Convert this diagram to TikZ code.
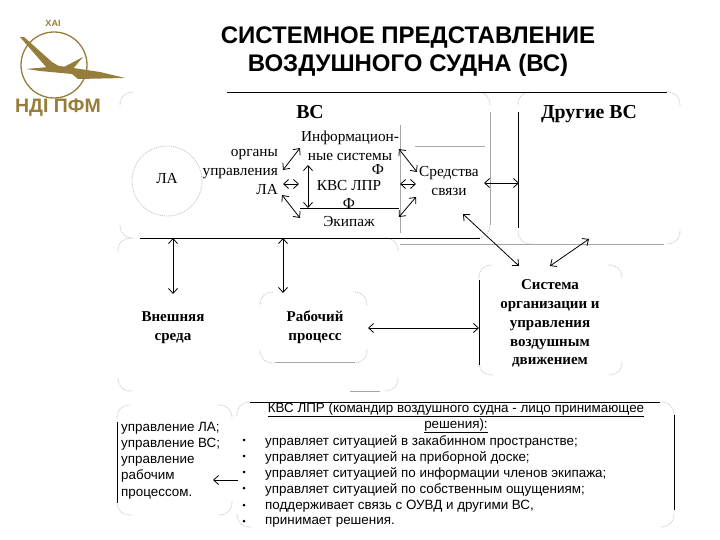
\documentclass[tikz,border=0pt]{standalone}
\usepackage{fontspec}
\setmainfont{Liberation Serif}
\newfontfamily\arialfont{Liberation Sans}
\usepackage{xcolor}
\usetikzlibrary{arrows.meta}
\definecolor{logogold}{RGB}{150,125,60}
\newcommand{\cornerbox}[4]{
    \draw[corner] (#1,{#2+14})|-({#1+14},#2);
    \draw[corner] ({#3-14},#2)-|(#3,{#2+14});
    \draw[corner] (#3,{#4-14})|-({#3-14},#4);
    \draw[corner] ({#1+14},#4)-|(#1,{#4-14});
}
\tikzset{
    >={Straight Barb[length=5pt,width=9pt]},
    corner/.style={gray!45,densely dotted,line width=0.9pt,rounded corners=12pt},
    arr/.style={<->,line width=0.8pt},
    arrone/.style={->,line width=0.8pt},
    edge/.style={black,line width=0.8pt},
    thin edge/.style={gray!70,line width=0.8pt},
    serif/.style={inner sep=0pt,align=center,font=\fontsize{15.3}{19}\selectfont},
    serifb/.style={inner sep=0pt,align=center,font=\fontsize{15}{18.9}\selectfont\bfseries},
    head/.style={inner sep=0pt,font=\fontsize{19.8}{20}\selectfont\bfseries},
    sans/.style={inner sep=0pt,anchor=west,font=\arialfont\fontsize{13.4}{16.2}\selectfont},
}
\begin{document}
\begin{tikzpicture}[x=1pt,y=-1pt]
    \useasboundingbox (0,0) rectangle (720,540);

    % logo
    \draw[logogold,line width=1.3pt] (54,65) circle (33);
    \fill[logogold] (20,37)--(24,37)--(52,62)--(62,68)--(47,68)--cycle;
    \fill[logogold] (62,68)--(83,57)--(72,70)--cycle;
    \fill[logogold] (26,69)--(60,66)--(100,72)--(125,78)--(78,79)--(72,74)--(40,71)--cycle;
    \node[inner sep=0pt,logogold,font=\arialfont\fontsize{9}{9}\selectfont\bfseries] (xai) at (53,23) {ХАІ};
    \node[inner sep=0pt,logogold,font=\arialfont\fontsize{19.5}{19}\selectfont\bfseries] (ndi) at (58,108) {НДІ ПФМ};

    % title
    \node[inner sep=0pt,align=center,font=\arialfont\fontsize{24}{28}\selectfont\bfseries] (title) at (408,51.500) {СИСТЕМНОЕ ПРЕДСТАВЛЕНИЕ\\ВОЗДУШНОГО СУДНА (ВС)};

    % rounded frames
    \cornerbox{120}{92}{490}{238}
    \cornerbox{518}{92}{680}{244}
    \cornerbox{118}{238}{398}{391}
    \cornerbox{479}{265}{622}{375}
    \cornerbox{260}{292}{367}{363}
    \cornerbox{117}{405}{232}{515}
    \cornerbox{237}{402}{674}{527}
    \draw[corner] (167,181) circle (35);

    % frame lines
    \draw[edge] (227,92)--(667,92);
    \draw[thin edge] (490,112)--(490,225);
    \draw[edge] (518,112)--(518,228);
    \draw[edge] (140,238)--(480,238);
    \draw[thin edge] (400,244)--(664,244);
    \draw[edge] (479,280)--(479,365);
    \draw[thin edge] (275,362)--(355,362);
    \draw[thin edge] (350,391)--(380,391);
    \draw[edge] (117,422)--(117,503);
    \draw[edge] (250,402)--(660,402);
    \draw[edge] (674,415)--(674,510);
    \draw[thin edge] (415,146)--(485,146);
    \draw[thin edge] (400,125)--(400,233);
    \draw[edge] (300,208)--(399,208);

    % upper block
    \node[head] (vs) at (310,112) {ВС};
    \node[head] (other) at (589,114) {Другие ВС};
    \node[serif] (la) at (167,179) {ЛА};
    \node[serif,align=right,anchor=east] (organs) at (278,171.500) {органы\\управления\\ЛА};
    \node[serif] (info) at (350,145.500) {Информацион-\\ные системы};
    \node[serif] (kvs) at (349,186) {КВС ЛПР};
    \node[serif] (phi1) at (378,169) {Ф};
    \node[serif] (phi2) at (349,203) {Ф};
    \node[serif] (crew) at (349,222) {Экипаж};
    \node[serif] (comm) at (449,181) {Средства\\связи};

    % lower block
    \node[serifb] (ext) at (173,328) {Внешняя\\среда};
    \node[serifb] (work) at (315,327) {Рабочий\\процесс};
    \node[serifb] (atc) at (550,323.500) {Система\\организации и\\управления\\воздушным\\движением};

    % arrow ends
    \coordinate (a1) at (283,170);
    \coordinate (a2) at (300,148);
    \coordinate (b1) at (283,184);
    \coordinate (b2) at (299,184);
    \coordinate (c1) at (282,195);
    \coordinate (c2) at (300,218);
    \coordinate (d1) at (308,165);
    \coordinate (d2) at (308,208);
    \coordinate (e1) at (399,149);
    \coordinate (e2) at (417,172);
    \coordinate (f1) at (400,184);
    \coordinate (f2) at (416,184);
    \coordinate (g1) at (399,217);
    \coordinate (g2) at (416,197);
    \coordinate (h1) at (484,183);
    \coordinate (h2) at (519,183);
    \coordinate (i1) at (463,214);
    \coordinate (i2) at (519,266);
    \coordinate (j1) at (550,266);
    \coordinate (j2) at (589,239);
    \coordinate (k1) at (173,238);
    \coordinate (k2) at (173,294);
    \coordinate (l1) at (283,238);
    \coordinate (l2) at (283,293);
    \coordinate (m1) at (368,328);
    \coordinate (m2) at (479,328);
    \coordinate (n1) at (238,480);
    \coordinate (n2) at (213,480);

    \draw[arr] (a1)--(a2);
    \draw[arr] (b1)--(b2);
    \draw[arr] (c1)--(c2);
    \draw[arr] (d1)--(d2);
    \draw[arr] (e1)--(e2);
    \draw[arr] (f1)--(f2);
    \draw[arr] (g1)--(g2);
    \draw[arr] (h1)--(h2);
    \draw[arr] (i1)--(i2);
    \draw[arr] (j1)--(j2);
    \draw[arr] (k1)--(k2);
    \draw[arr] (l1)--(l2);
    \draw[arr] (m1)--(m2);
    \draw[arrone] (n1)--(n2);

    % bottom left text
    \node[sans,align=left] (ctrl) at (121,460.500) {управление ЛА;\\управление ВС;\\управление\\рабочим\\процессом.};

    % bottom right text
    \node[inner sep=0pt,font=\arialfont\fontsize{13.4}{16}\selectfont] (kvshead1) at (456,410) {\underline{КВС ЛПР (командир воздушного судна - лицо принимающее}};
    \node[inner sep=0pt,font=\arialfont\fontsize{13.4}{16}\selectfont] (kvshead2) at (456,426) {\underline{решения):}};
    \node[sans] (t1) at (265,441.500) {управляет ситуацией в закабинном пространстве;};
    \node[sans] (t2) at (265,457.500) {управляет  ситуацией на приборной доске;};
    \node[sans] (t3) at (265,473.500) {управляет  ситуацией по информации членов экипажа;};
    \node[sans] (t4) at (265,489.500) {управляет  ситуацией по собственным ощущениям;};
    \node[sans] (t5) at (265,506.500) {поддерживает связь с ОУВД и другими ВС,};
    \node[sans] (t6) at (265,522.500) {принимает решения.};
    \foreach \y in {440,456,472,488,505,521}
        \fill (244,\y) circle (1.5);
\end{tikzpicture}
\end{document}
